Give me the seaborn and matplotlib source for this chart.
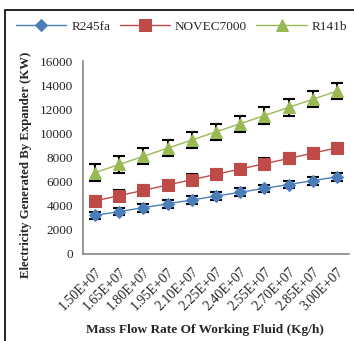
import matplotlib
matplotlib.use("Agg")
import matplotlib.pyplot as plt
import seaborn as sns
import pandas as pd
import numpy as np
from matplotlib.patches import Rectangle

categories = ["1.50E+07", "1.65E+07", "1.80E+07", "1.95E+07", "2.10E+07", "2.25E+07",
              "2.40E+07", "2.55E+07", "2.70E+07", "2.85E+07", "3.00E+07"]
r245fa = [3200, 3520, 3840, 4160, 4480, 4800, 5120, 5440, 5760, 6080, 6400]
novec7000 = [4400, 4840, 5280, 5720, 6160, 6600, 7040, 7480, 7920, 8360, 8800]
r141b = [6750, 7425, 8100, 8775, 9450, 10125, 10800, 11475, 12150, 12825, 13500]
err_r245fa = 320
err_novec = 440
err_r141b = 675
series_names = ["R245fa", "NOVEC7000", "R141b"]

sns.set_style("white")
plt.rcParams['font.family'] = ['Liberation Serif', 'DejaVu Serif']

colors = {"R245fa": "#4A7EBB", "NOVEC7000": "#BE4B48", "R141b": "#98B954"}
markers = {"R245fa": "D", "NOVEC7000": "s", "R141b": "^"}
msizes = {"R245fa": 6, "NOVEC7000": 9, "R141b": 8}

rows = []
for name, vals, err in zip(series_names, [r245fa, novec7000, r141b], [err_r245fa, err_novec, err_r141b]):
    for i, (c, v) in enumerate(zip(categories, vals)):
        rows.append({"idx": i, "cat": c, "value": v, "fluid": name, "err": err})
df = pd.DataFrame(rows)

fig = plt.figure(figsize=(3.54, 3.41), dpi=100)
ax = fig.add_axes([83 / 354, 1 - 254 / 341, (349 - 83) / 354, (254 - 61) / 341])

for name in series_names:
    sub = df[df.fluid == name]
    ax.errorbar(sub["idx"], sub["value"], yerr=sub["err"], fmt="none", ecolor="black",
                elinewidth=1.5, capsize=4, capthick=1.5, zorder=2)

for name in series_names:
    sub = df[df.fluid == name]
    sns.lineplot(data=sub, x="idx", y="value", ax=ax, color=colors[name], marker=markers[name],
                 markersize=msizes[name], markeredgecolor=colors[name], linewidth=1.0,
                 label=name, zorder=3)

ax.set_xlim(-0.5, len(categories) - 0.5)
ax.set_ylim(0, 16000)
ax.set_yticks(np.arange(0, 16001, 2000))
ax.set_yticklabels([str(int(v)) for v in np.arange(0, 16001, 2000)], fontsize=9.5)
ax.set_xticks(np.arange(-0.5, len(categories), 1.0))
ax.set_xticklabels([])
ax.set_xticks(np.arange(len(categories)), minor=True)
ax.set_xticklabels(categories, minor=True, rotation=45, ha="right", va="top", fontsize=10,
                   rotation_mode="anchor")
ax.tick_params(axis="x", which="minor", length=0, pad=8)
ax.tick_params(axis="both", which="major", length=4, width=1, color="#868686", direction="out")
ax.tick_params(axis="y", pad=3)

for s in ["top", "right"]:
    ax.spines[s].set_visible(False)
for s in ["left", "bottom"]:
    ax.spines[s].set_color("#868686")
    ax.spines[s].set_linewidth(1.2)

ax.set_xlabel("Mass Flow Rate Of Working Fluid (Kg/h)", fontsize=9.6, fontweight="bold")
ax.set_ylabel("Electricity Generated By Expander (KW)", fontsize=9.2, fontweight="bold")
ax.xaxis.set_label_coords(0.46, -0.365)
ax.yaxis.set_label_coords(-0.19, 0.46)

ax.get_legend().remove()
handles, labels = ax.get_legend_handles_labels()
fig.legend(handles, labels, loc="center left", bbox_to_anchor=(16 / 354, 1 - 27 / 341), ncol=3,
           frameon=False, fontsize=9.5, handlelength=3.8, handletextpad=0.4, columnspacing=0.7,
           borderaxespad=0, borderpad=0)

fig.patches.append(Rectangle((5 / 354, -0.05), 1.2, 1 - 10 / 341 + 0.05, transform=fig.transFigure,
                             fill=False, edgecolor="black", linewidth=1.2))

fig.savefig("out.png", dpi=100)
